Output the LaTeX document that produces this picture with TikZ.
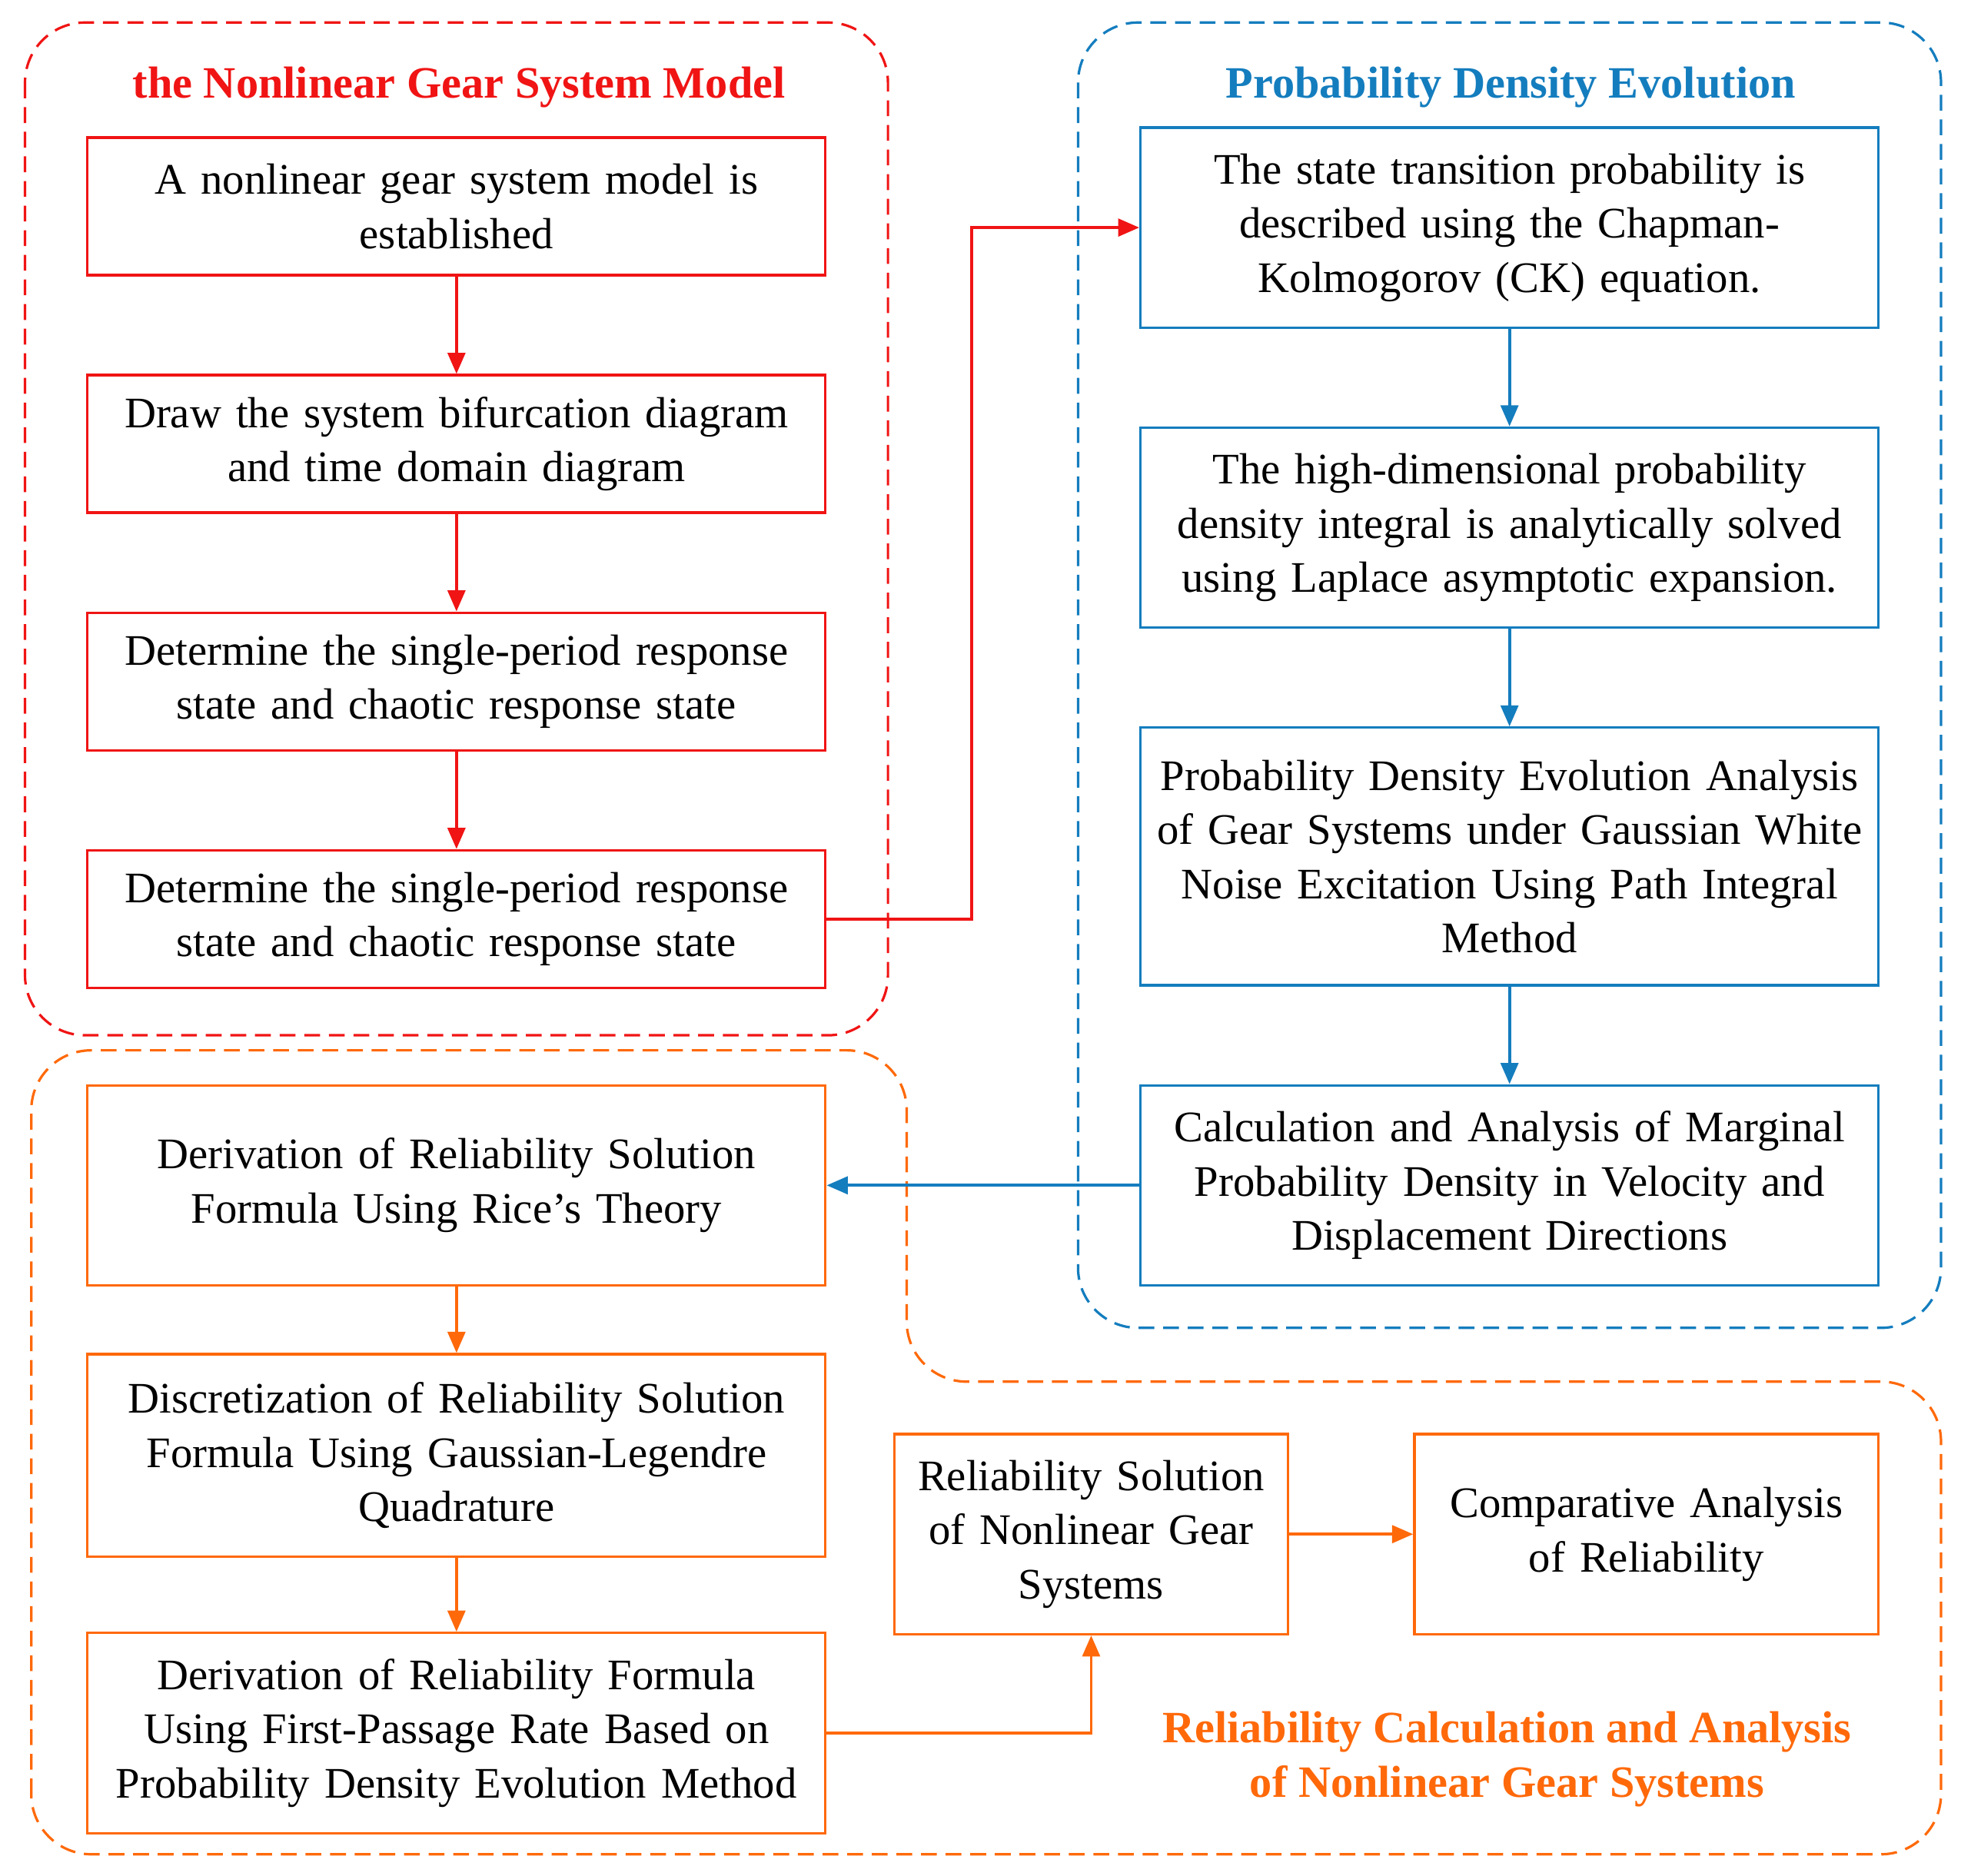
\documentclass[tikz,border=0pt]{standalone}
\usepackage{fontspec}
\setmainfont{Liberation Serif}
\usetikzlibrary{arrows.meta}
\definecolor{cred}{RGB}{240,20,20}
\definecolor{cblue}{RGB}{20,125,190}
\definecolor{corange}{RGB}{255,105,10}
\begin{document}
\begin{tikzpicture}[x=0.025cm,y=-0.025cm,
  every node/.style={font=\fontsize{24.8}{30.8}\selectfont},
  box/.style={draw,line width=1.4pt,align=center,inner xsep=0pt,inner ysep=0pt,minimum height=4cm,text width=14.75cm},
  frame/.style={dashed,line width=1.4pt,rounded corners=1.2cm,dash pattern=on 9pt off 5pt},
  arr/.style={line width=1.6pt,-{Triangle[length=12pt,width=10pt]}},
  ttl/.style={font=\fontsize{25.5}{30.8}\selectfont\bfseries,align=center}]
\useasboundingbox (0,0) rectangle (1568,1500);
% frames
\draw[frame,cred] (20,18) rectangle (710,828);
\draw[frame,cblue] (862,18) rectangle (1552,1062);
\draw[frame,corange] (25,1483) -- (25,840) -- (725,840) -- (725,1105) -- (1552,1105) -- (1552,1483) -- cycle;
\node[ttl,text=cred] (t1) at (367,70) {the Nonlinear Gear System Model};
\node[ttl,text=cblue] (t2) at (1208,70) {Probability Density Evolution};
\node[ttl,text=corange] (t3) at (1205,1407) {Reliability Calculation and Analysis\\of Nonlinear Gear Systems};
% red
\node[box,draw=cred,minimum height=2.75cm] (r1) at (365,165) {A nonlinear gear system model is\\established};
\node[box,draw=cred,minimum height=2.75cm] (r2) at (365,355) {Draw the system bifurcation diagram\\and time domain diagram};
\node[box,draw=cred,minimum height=2.75cm] (r3) at (365,545) {Determine the single-period response\\state and chaotic response state};
\node[box,draw=cred,minimum height=2.75cm] (r4) at (365,735) {Determine the single-period response\\state and chaotic response state};
% blue
\node[box,draw=cblue] (b1) at (1207,182) {The state transition probability is\\described using the Chapman-\\Kolmogorov (CK) equation.};
\node[box,draw=cblue] (b2) at (1207,422) {The high-dimensional probability\\density integral is analytically solved\\using Laplace asymptotic expansion.};
\node[box,draw=cblue,minimum height=5.15cm] (b3) at (1207,685) {Probability Density Evolution Analysis\\of Gear Systems under Gaussian White\\Noise Excitation Using Path Integral\\Method};
\node[box,draw=cblue] (b4) at (1207,948) {Calculation and Analysis of Marginal\\Probability Density in Velocity and\\Displacement Directions};
% orange
\node[box,draw=corange] (o1) at (365,948) {Derivation of Reliability Solution\\Formula Using Rice\char"0027 s Theory};
\node[box,draw=corange,minimum height=4.05cm] (o2) at (365,1164) {Discretization of Reliability Solution\\Formula Using Gaussian-Legendre\\Quadrature};
\node[box,draw=corange] (o3) at (365,1386) {Derivation of Reliability Formula\\Using First-Passage Rate Based on\\Probability Density Evolution Method};
\node[box,draw=corange,text width=7.875cm] (o4) at (872.5,1227) {Reliability Solution\\of Nonlinear Gear\\Systems};
\node[box,draw=corange,text width=9.275cm] (o5) at (1316.5,1227) {Comparative Analysis\\of Reliability};
% arrows
\draw[arr,cred] (r1) -- (r2);
\draw[arr,cred] (r2) -- (r3);
\draw[arr,cred] (r3) -- (r4);
\draw[arr,cred] (r4.east) -- (777,735) -- (777,182) -- (b1.west);
\draw[arr,cblue] (b1) -- (b2);
\draw[arr,cblue] (b2) -- (b3);
\draw[arr,cblue] (b3) -- (b4);
\draw[arr,cblue] (b4.west) -- (o1.east);
\draw[arr,corange] (o1) -- (o2);
\draw[arr,corange] (o2) -- (o3);
\draw[arr,corange] (o3.east) -| (o4.south);
\draw[arr,corange] (o4) -- (o5);
\end{tikzpicture}
\end{document}
